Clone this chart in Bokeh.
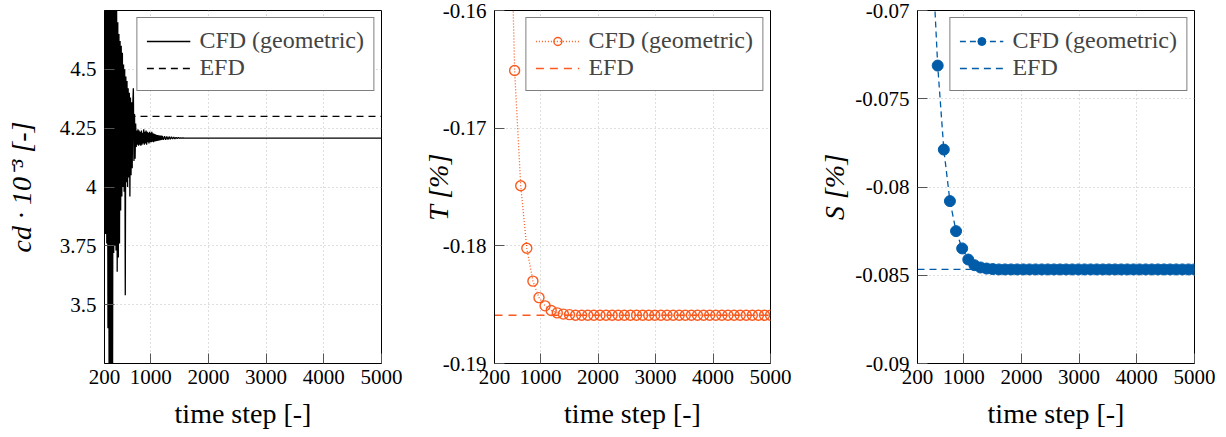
from bokeh.plotting import figure
from bokeh.layouts import row
from bokeh.models import (Range1d, FixedTicker, CustomJSTickFormatter, Legend,
                          LegendItem)
from bokeh.embed import file_html
from bokeh.resources import INLINE

FONT = "Liberation Serif"
ORANGE = "#fa5a1e"
BLUE = "#005ca9"

# ---------------- data ----------------
x_range_lim = [200, 5000]
x_ticks = [200, 1000, 2000, 3000, 4000, 5000]

cd_steps = [200, 210, 220, 230, 240, 250, 260, 270, 280, 290, 300, 310, 320, 330,
            340, 350, 360, 370, 380, 390, 400, 410, 420, 430, 440, 450, 460, 470,
            480, 490, 500, 510, 520, 530, 540, 550, 560, 570, 580, 590, 600, 610,
            620, 630, 640, 650, 660, 670, 680, 690, 700, 710, 720, 730, 740, 750,
            760, 770, 780, 790, 800, 810, 820, 830, 840, 850, 860, 870, 880, 890,
            900, 910, 920, 930, 940, 950, 960, 970, 980, 990, 1000, 1010, 1020,
            1030, 1040, 1050, 1060, 1070, 1080, 1090, 1100, 1110, 1120, 1130, 1140,
            1150, 1160, 1170, 1180, 1190, 1200, 1220, 1240, 1260, 1280, 1300, 1320,
            1340, 1360, 1380, 1400, 1420, 1440, 1460, 1480, 1500, 1520, 1540, 1560,
            1580, 1650, 5000]
cd_values = [4.02, 4.80, 3.80, 4.85, 3.76, 4.90, 3.40, 4.90, 3.10, 4.95, 3.05, 4.90,
             3.15, 4.88, 3.20, 4.85, 3.72, 4.82, 3.75, 4.80, 3.73, 4.76, 3.64, 4.70,
             3.70, 4.65, 3.76, 4.62, 3.90, 4.60, 3.96, 4.57, 4.00, 4.52, 3.98, 4.50,
             3.54, 4.47, 4.02, 4.45, 4.00, 4.42, 4.04, 4.40, 3.96, 4.38, 4.05, 4.36,
             4.08, 4.35, 4.42, 4.11, 4.31, 4.12, 4.27, 4.17, 4.24, 4.18, 4.245, 4.175,
             4.24, 4.18, 4.235, 4.175, 4.24, 4.18, 4.23, 4.185, 4.245, 4.18, 4.235,
             4.185, 4.24, 4.18, 4.235, 4.19, 4.23, 4.185, 4.235, 4.19, 4.23, 4.19,
             4.235, 4.192, 4.228, 4.19, 4.226, 4.194, 4.224, 4.195, 4.222, 4.196,
             4.221, 4.197, 4.22, 4.198, 4.219, 4.199, 4.218, 4.20, 4.217, 4.20, 4.216,
             4.201, 4.215, 4.202, 4.214, 4.203, 4.213, 4.204, 4.212, 4.205, 4.211,
             4.206, 4.21, 4.207, 4.209, 4.2075, 4.2085, 4.208, 4.208, 4.208]
cd_efd = 4.30
cd_ylim = [3.25, 4.75]
cd_ticks = [3.5, 3.75, 4, 4.25, 4.5]

steps = [444, 550, 656, 762, 868, 974, 1080, 1186, 1292, 1398, 1504, 1610, 1716,
         1822, 1928, 2034, 2140, 2246, 2352, 2458, 2564, 2670, 2776, 2882, 2988,
         3094, 3200, 3306, 3412, 3518, 3624, 3730, 3836, 3942, 4048, 4154, 4260,
         4366, 4472, 4578, 4684, 4790, 4896, 5000]
T_values = [-0.143, -0.1651, -0.1749, -0.1802, -0.1830, -0.1844, -0.1851, -0.1855,
            -0.1857, -0.1858, -0.18585, -0.1859, -0.1859, -0.1859, -0.1859, -0.1859,
            -0.1859, -0.1859, -0.1859, -0.1859, -0.1859, -0.1859, -0.1859, -0.1859,
            -0.1859, -0.1859, -0.1859, -0.1859, -0.1859, -0.1859, -0.1859, -0.1859,
            -0.1859, -0.1859, -0.1859, -0.1859, -0.1859, -0.1859, -0.1859, -0.1859,
            -0.1859, -0.1859, -0.1859, -0.1859]
T_efd = -0.1859
T_ylim = [-0.19, -0.16]
T_ticks = [-0.19, -0.18, -0.17, -0.16]

S_values = [-0.0661, -0.07312, -0.07788, -0.0808, -0.0825, -0.08348, -0.08411,
            -0.08443, -0.08456, -0.08462, -0.08465, -0.08467, -0.08467, -0.08467,
            -0.08467, -0.08467, -0.08467, -0.08467, -0.08467, -0.08467, -0.08467,
            -0.08467, -0.08467, -0.08467, -0.08467, -0.08467, -0.08467, -0.08467,
            -0.08467, -0.08467, -0.08467, -0.08467, -0.08467, -0.08467, -0.08467,
            -0.08467, -0.08467, -0.08467, -0.08467, -0.08467, -0.08467, -0.08467,
            -0.08467, -0.08467]
S_efd = -0.08467
S_ylim = [-0.09, -0.07]
S_ticks = [-0.09, -0.085, -0.08, -0.075, -0.07]

labels_legend = ["CFD (geometric)", "EFD"]
x_label = "time step [-]"
cd_label = "cd · 10⁻³ [-]"
T_label = "T [%]"
S_label = "S [%]"

FRAME_H = 353
TOP = 10
BOTTOM = 74


def make_fig(frame_w, bl, br, ylim, yticks, ylabel, ystandoff):
    p = figure(frame_width=frame_w, frame_height=FRAME_H,
               min_border_left=bl, min_border_right=br,
               min_border_top=TOP, min_border_bottom=BOTTOM,
               x_range=Range1d(*x_range_lim), y_range=Range1d(*ylim),
               output_backend="svg", toolbar_location=None)
    p.background_fill_color = "white"
    p.border_fill_color = "white"
    p.outline_line_color = "black"
    p.outline_line_width = 1
    p.xaxis.ticker = FixedTicker(ticks=x_ticks)
    p.yaxis.ticker = FixedTicker(ticks=yticks)
    p.xaxis.formatter = CustomJSTickFormatter(code="return tick.toString();")
    p.yaxis.formatter = CustomJSTickFormatter(code="return tick.toString();")
    for ax in (p.xaxis[0], p.yaxis[0]):
        ax.major_tick_in = 10
        ax.major_tick_out = 0
        ax.minor_tick_in = 0
        ax.minor_tick_out = 0
        ax.major_tick_line_color = "#555555"
        ax.axis_line_color = "black"
        ax.major_label_text_font = FONT
        ax.major_label_text_font_size = "21px"
        ax.major_label_text_color = "black"
        ax.axis_label_text_font = FONT
        ax.axis_label_text_font_size = "28px"
        ax.axis_label_text_color = "black"
    p.yaxis.major_label_standoff = 8
    p.xaxis.major_label_standoff = 6
    p.xaxis.axis_label = x_label
    p.xaxis.axis_label_text_font_style = "normal"
    p.xaxis.axis_label_standoff = 11
    p.yaxis.axis_label = ylabel
    p.yaxis.axis_label_text_font_style = "italic"
    p.yaxis.axis_label_standoff = ystandoff
    p.grid.grid_line_color = "#bdbdbd"
    p.grid.grid_line_dash = "1 3"
    p.grid.grid_line_width = 1
    return p


def add_legend(p, items):
    leg = Legend(items=items, location="top_right")
    leg.margin = 7
    leg.padding = 9
    leg.spacing = 0
    leg.glyph_width = 44
    leg.glyph_height = 20
    leg.label_height = 24
    leg.label_standoff = 9
    leg.label_text_font = FONT
    leg.label_text_font_size = "24px"
    leg.border_line_color = "black"
    leg.border_line_width = 1
    leg.background_fill_alpha = 1
    p.add_layout(leg)


# ---------------- panel 1: c_d ----------------
p1 = make_fig(277, 104, 29, cd_ylim, cd_ticks, cd_label, 20)
r_efd1 = p1.line(x_range_lim, [cd_efd, cd_efd], line_color="black",
                 line_dash="7 5", line_width=1.3)
r_cfd1 = p1.line(cd_steps, cd_values, line_color="black", line_width=1.3)
add_legend(p1, [LegendItem(label=labels_legend[0], renderers=[r_cfd1]),
                LegendItem(label=labels_legend[1], renderers=[r_efd1])])

# ---------------- panel 2: T ----------------
p2 = make_fig(276, 84, 44, T_ylim, T_ticks, T_label, -14)
r_efd2 = p2.line(x_range_lim, [T_efd, T_efd], line_color=ORANGE,
                 line_dash="8 6", line_width=1.3)
r_cfd2 = p2.line(steps, T_values, line_color=ORANGE, line_dash="1 2",
                 line_width=1.3)
r_sc2 = p2.scatter(steps, T_values, marker="circle", size=10, fill_color=None,
                   line_color=ORANGE, line_width=1.4)
add_legend(p2, [LegendItem(label=labels_legend[0], renderers=[r_cfd2, r_sc2]),
                LegendItem(label=labels_legend[1], renderers=[r_efd2])])

# ---------------- panel 3: S ----------------
p3 = make_fig(277, 103, 32, S_ylim, S_ticks, S_label, 2)
r_efd3 = p3.line(x_range_lim, [S_efd, S_efd], line_color=BLUE,
                 line_dash="7 5", line_width=1.3)
r_cfd3 = p3.line(steps, S_values, line_color=BLUE, line_dash="6 4",
                 line_width=1.3)
r_sc3 = p3.scatter(steps, S_values, marker="circle", size=11, fill_color=BLUE,
                   line_color=BLUE)
add_legend(p3, [LegendItem(label=labels_legend[0], renderers=[r_cfd3, r_sc3]),
                LegendItem(label=labels_legend[1], renderers=[r_efd3])])

layout = row(p1, p2, p3, spacing=0)
open("out.html", "w").write(file_html(layout, INLINE))
